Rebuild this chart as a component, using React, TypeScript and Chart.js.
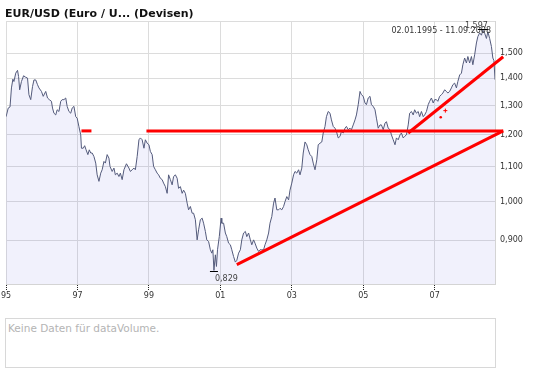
import React, { useEffect, useRef } from "react";
import { Chart, registerables } from "chart.js";

Chart.register(...registerables);

const titleText = "EUR/USD (Euro / U... (Devisen)";
const rangeStart = "02.01.1995";
const rangeEnd = "11.09.2008";
const emptyVolumeText = "Keine Daten für dataVolume.";

const xMinYear = 1995;
const xMaxYear = 2008.69;
const yMinValue = 0.7988;
const yMaxValue = 1.635;
const xTickYears = [1995, 1997, 1999, 2001, 2003, 2005, 2007];
const yTickValues = [0.9, 1.0, 1.1, 1.2, 1.3, 1.4, 1.5];

const priceYears = [
  1995.00, 1995.06, 1995.11, 1995.15, 1995.19, 1995.22, 1995.27, 1995.32, 1995.35, 1995.38,
  1995.43, 1995.49, 1995.54, 1995.60, 1995.64, 1995.69, 1995.74, 1995.78, 1995.83, 1995.88,
  1995.92, 1995.99, 1996.04, 1996.11, 1996.16, 1996.21, 1996.27, 1996.30, 1996.34, 1996.39,
  1996.43, 1996.48, 1996.53, 1996.57, 1996.62, 1996.67, 1996.71, 1996.76, 1996.81, 1996.85,
  1996.90, 1996.95, 1996.99, 1997.04, 1997.09, 1997.11, 1997.16, 1997.20, 1997.24, 1997.29,
  1997.33, 1997.37, 1997.41, 1997.46, 1997.51, 1997.55, 1997.60, 1997.65, 1997.69, 1997.74,
  1997.78, 1997.83, 1997.88, 1997.91, 1997.97, 1998.02, 1998.06, 1998.11, 1998.16, 1998.20,
  1998.25, 1998.30, 1998.37, 1998.44, 1998.48, 1998.53, 1998.58, 1998.62, 1998.67, 1998.72,
  1998.76, 1998.81, 1998.86, 1998.90, 1998.95, 1999.00, 1999.04, 1999.09, 1999.13, 1999.18,
  1999.23, 1999.27, 1999.32, 1999.37, 1999.41, 1999.46, 1999.51, 1999.55, 1999.60, 1999.65,
  1999.69, 1999.74, 1999.79, 1999.83, 1999.88, 1999.93, 1999.97, 2000.02, 2000.07, 2000.11,
  2000.16, 2000.21, 2000.25, 2000.30, 2000.35, 2000.39, 2000.44, 2000.49, 2000.53, 2000.58,
  2000.62, 2000.67, 2000.72, 2000.76, 2000.79, 2000.82, 2000.86, 2000.89, 2000.92, 2000.97,
  2001.02, 2001.04, 2001.09, 2001.14, 2001.18, 2001.23, 2001.28, 2001.32, 2001.37, 2001.42,
  2001.46, 2001.51, 2001.56, 2001.60, 2001.65, 2001.70, 2001.74, 2001.79, 2001.84, 2001.88,
  2001.93, 2001.97, 2002.02, 2002.07, 2002.11, 2002.16, 2002.21, 2002.25, 2002.30, 2002.35,
  2002.39, 2002.44, 2002.49, 2002.53, 2002.58, 2002.63, 2002.67, 2002.72, 2002.77, 2002.81,
  2002.86, 2002.91, 2002.95, 2003.00, 2003.05, 2003.09, 2003.14, 2003.19, 2003.23, 2003.28,
  2003.32, 2003.37, 2003.42, 2003.46, 2003.51, 2003.56, 2003.60, 2003.65, 2003.70, 2003.74,
  2003.79, 2003.84, 2003.88, 2003.93, 2003.97, 2004.02, 2004.07, 2004.11, 2004.16, 2004.21,
  2004.25, 2004.30, 2004.35, 2004.39, 2004.44, 2004.49, 2004.53, 2004.58, 2004.63, 2004.67,
  2004.72, 2004.77, 2004.81, 2004.86, 2004.91, 2004.95, 2005.00, 2005.05, 2005.09, 2005.14,
  2005.19, 2005.23, 2005.28, 2005.33, 2005.37, 2005.42, 2005.47, 2005.51, 2005.56, 2005.61,
  2005.65, 2005.70, 2005.75, 2005.79, 2005.84, 2005.89, 2005.93, 2005.98, 2006.03, 2006.07,
  2006.12, 2006.16, 2006.21, 2006.26, 2006.30, 2006.35, 2006.40, 2006.44, 2006.49, 2006.54,
  2006.58, 2006.63, 2006.68, 2006.72, 2006.77, 2006.82, 2006.86, 2006.91, 2006.96, 2007.00,
  2007.05, 2007.09, 2007.14, 2007.19, 2007.23, 2007.28, 2007.33, 2007.37, 2007.42, 2007.47,
  2007.51, 2007.56, 2007.61, 2007.65, 2007.70, 2007.75, 2007.79, 2007.84, 2007.89, 2007.93,
  2007.98, 2008.03, 2008.07, 2008.12, 2008.17, 2008.21, 2008.26, 2008.31, 2008.35, 2008.40,
  2008.45, 2008.49, 2008.54, 2008.59, 2008.63, 2008.66, 2008.69,
];

const priceValues = [
  1.261, 1.291, 1.295, 1.364, 1.397, 1.388, 1.420, 1.431, 1.407, 1.357,
  1.388, 1.410, 1.405, 1.401, 1.339, 1.321, 1.369, 1.394, 1.394, 1.376,
  1.364, 1.351, 1.333, 1.351, 1.327, 1.321, 1.315, 1.291, 1.273, 1.267,
  1.285, 1.279, 1.315, 1.321, 1.321, 1.327, 1.297, 1.279, 1.273, 1.291,
  1.297, 1.261, 1.256, 1.227, 1.200, 1.157, 1.157, 1.165, 1.152, 1.137,
  1.152, 1.142, 1.142, 1.131, 1.111, 1.076, 1.057, 1.081, 1.091, 1.116,
  1.111, 1.137, 1.126, 1.101, 1.086, 1.096, 1.076, 1.081, 1.071, 1.081,
  1.062, 1.091, 1.109, 1.096, 1.086, 1.091, 1.096, 1.091, 1.131, 1.184,
  1.190, 1.184, 1.157, 1.184, 1.173, 1.168, 1.147, 1.137, 1.101, 1.091,
  1.081, 1.076, 1.066, 1.062, 1.052, 1.042, 1.023, 1.076, 1.062, 1.047,
  1.071, 1.076, 1.066, 1.037, 1.042, 1.023, 1.032, 1.023, 0.996, 0.978,
  0.987, 0.969, 0.969, 0.952, 0.901, 0.926, 0.952, 0.956, 0.943, 0.922,
  0.901, 0.897, 0.877, 0.869, 0.877, 0.829, 0.865, 0.838, 0.877, 0.909,
  0.956, 0.943, 0.943, 0.918, 0.909, 0.893, 0.889, 0.877, 0.861, 0.848,
  0.852, 0.869, 0.877, 0.901, 0.918, 0.922, 0.909, 0.918, 0.901, 0.889,
  0.901, 0.893, 0.881, 0.873, 0.877, 0.877, 0.877, 0.889, 0.901, 0.918,
  0.943, 0.960, 0.996, 1.010, 0.978, 0.978, 0.982, 0.978, 0.987, 1.000,
  1.014, 1.005, 1.032, 1.052, 1.076, 1.086, 1.081, 1.091, 1.076, 1.096,
  1.142, 1.177, 1.168, 1.152, 1.137, 1.131, 1.111, 1.091, 1.121, 1.168,
  1.173, 1.177, 1.206, 1.228, 1.261, 1.279, 1.273, 1.250, 1.228, 1.222,
  1.211, 1.190, 1.195, 1.211, 1.206, 1.222, 1.228, 1.217, 1.222, 1.217,
  1.233, 1.250, 1.267, 1.303, 1.351, 1.339, 1.333, 1.309, 1.303, 1.327,
  1.333, 1.303, 1.297, 1.285, 1.256, 1.222, 1.233, 1.233, 1.217, 1.239,
  1.244, 1.222, 1.217, 1.200, 1.184, 1.168, 1.190, 1.184, 1.200, 1.206,
  1.190, 1.195, 1.200, 1.233, 1.273, 1.279, 1.267, 1.285, 1.273, 1.279,
  1.261, 1.279, 1.261, 1.267, 1.279, 1.303, 1.315, 1.327, 1.309, 1.321,
  1.321, 1.315, 1.333, 1.339, 1.345, 1.357, 1.351, 1.345, 1.351, 1.364,
  1.376, 1.382, 1.364, 1.388, 1.413, 1.420, 1.453, 1.480, 1.460, 1.486,
  1.460, 1.486, 1.453, 1.493, 1.542, 1.569, 1.585, 1.575, 1.597, 1.584,
  1.561, 1.590, 1.561, 1.527, 1.480, 1.470, 1.395,
];

// hand-drawn trend lines (red)
const shortLevelYears = [1997.11, 1997.39];
const shortLevelValues = [1.213, 1.213];
const longLevelYears = [1998.93, 2008.92];
const longLevelValues = [1.213, 1.213];
const supportYears = [2001.46, 2008.92];
const supportValues = [0.842, 1.213];
const channelYears = [2006.26, 2008.92];
const channelValues = [1.206, 1.485];
const crossYears = [2007.30];
const crossValues = [1.282];
const dotYears = [2007.17];
const dotValues = [1.259];

const toPoints = (xs: number[], ys: number[]) => xs.map((x, i) => ({ x, y: ys[i] }));
const fmt = (v: number) => v.toFixed(3).replace(".", ",");

const FONT = "DejaVu Sans";
const RED = "#ff0000";

const extremesPlugin = {
  id: "extremes",
  afterDatasetsDraw(chart: any) {
    const { ctx, chartArea } = chart;
    const xs = chart.scales.x;
    const ys = chart.scales.y;
    let iMin = 0;
    let iMax = 0;
    priceValues.forEach((v, i) => {
      if (v < priceValues[iMin]) iMin = i;
      if (v > priceValues[iMax]) iMax = i;
    });
    ctx.save();
    ctx.font = `8px "${FONT}"`;
    // date range label
    ctx.fillStyle = "#333";
    ctx.textAlign = "right";
    ctx.textBaseline = "alphabetic";
    ctx.fillText(`${rangeStart} - ${rangeEnd}`, chartArea.right - 4, chartArea.top + 11.5);

    ctx.strokeStyle = "#000";
    ctx.lineWidth = 1;
    // min marker
    const mx = xs.getPixelForValue(priceYears[iMin]);
    const my = Math.round(ys.getPixelForValue(priceValues[iMin])) + 1.5;
    ctx.beginPath();
    ctx.moveTo(mx - 4, my);
    ctx.lineTo(mx + 4, my);
    ctx.stroke();
    ctx.fillStyle = "#444";
    ctx.textAlign = "left";
    ctx.textBaseline = "alphabetic";
    ctx.fillText(fmt(priceValues[iMin]), mx + 1, my + 9);
    // max marker
    const Mx = xs.getPixelForValue(priceYears[iMax]);
    const My = Math.round(ys.getPixelForValue(priceValues[iMax])) - 0.5;
    ctx.beginPath();
    ctx.moveTo(Mx - 5, My);
    ctx.lineTo(Mx + 5, My);
    ctx.stroke();
    ctx.textAlign = "right";
    ctx.fillText(fmt(priceValues[iMax]), Mx + 5, My - 1.5);
    ctx.restore();
  },
};

export default function App() {
  const canvasRef = useRef<HTMLCanvasElement | null>(null);

  useEffect(() => {
    const canvas = canvasRef.current;
    if (!canvas) return;
    const font = { family: FONT, size: 8 };
    const redLine = (xs: number[], ys: number[]) => ({
      data: toPoints(xs, ys),
      borderColor: RED,
      backgroundColor: RED,
      borderWidth: 3,
      pointRadius: 0,
      fill: false,
      clip: false as any,
      order: 0,
    });
    const chart = new Chart(canvas, {
      type: "line",
      data: {
        datasets: [
          redLine(shortLevelYears, shortLevelValues),
          redLine(longLevelYears, longLevelValues),
          redLine(supportYears, supportValues),
          redLine(channelYears, channelValues),
          {
            data: toPoints(crossYears, crossValues),
            showLine: false,
            pointStyle: "cross",
            pointRadius: 2,
            borderColor: RED,
            borderWidth: 1,
            order: 0,
          } as any,
          {
            data: toPoints(dotYears, dotValues),
            showLine: false,
            pointStyle: "circle",
            pointRadius: 1.3,
            borderColor: RED,
            backgroundColor: RED,
            borderWidth: 0,
            order: 0,
          } as any,
          {
            data: toPoints(priceYears, priceValues),
            borderColor: "#545b7c",
            borderWidth: 1,
            pointRadius: 0,
            fill: "start",
            backgroundColor: "rgba(120,120,230,0.105)",
            tension: 0,
            order: 10,
          },
        ],
      },
      options: {
        responsive: false,
        animation: false,
        devicePixelRatio: 1,
        events: [],
        layout: { padding: { left: 5, top: 21.5, right: 0, bottom: 70 } },
        plugins: {
          legend: { display: false },
          tooltip: { enabled: false },
          title: { display: false },
        },
        scales: {
          x: {
            type: "linear",
            position: "bottom",
            min: xMinYear,
            max: xMaxYear,
            afterBuildTicks: (s: any) => {
              s.ticks = xTickYears.map((v) => ({ value: v }));
            },
            afterFit: (s: any) => {
              s.height = 16;
            },
            ticks: {
              callback: (v: any) => String(v).slice(2),
              font,
              color: "#333",
              padding: 1,
              maxRotation: 0,
              autoSkip: false,
            },
            grid: {
              color: "#dcdcdc",
              lineWidth: 1,
              drawTicks: true,
              tickLength: 6,
              tickColor: "#222",
              tickBorderDash: [1, 1],
            } as any,
            border: { display: true, color: "#d4d4d4" },
          },
          y: {
            type: "logarithmic",
            position: "right",
            min: yMinValue,
            max: yMaxValue,
            afterBuildTicks: (s: any) => {
              s.ticks = [...yTickValues, yMaxValue].map((v) => ({ value: v }));
            },
            afterFit: (s: any) => {
              s.width = 50;
            },
            ticks: {
              callback: (v: any) => (v === yMaxValue ? "" : fmt(Number(v))),
              font,
              color: "#333",
              padding: 5,
              autoSkip: false,
            },
            grid: { color: "#dcdcdc", lineWidth: 1, drawTicks: false },
            border: { display: true, color: "#d4d4d4" },
          },
        },
      },
      plugins: [extremesPlugin],
    });
    return () => chart.destroy();
  }, []);

  return (
    <div style={{ position: "absolute", left: 0, top: 0, width: 545, height: 370, background: "#fff" }}>
      <canvas
        ref={canvasRef}
        width={545}
        height={370}
        style={{ position: "absolute", left: 0, top: 0, width: 545, height: 370, display: "block" }}
      />
      <div
        style={{
          position: "absolute",
          left: 5,
          top: 7,
          font: `bold 11px "${FONT}"`,
          lineHeight: "13px",
          color: "#111",
          whiteSpace: "nowrap",
        }}
      >
        {titleText}
      </div>
      <div
        style={{
          position: "absolute",
          left: 5,
          top: 318,
          width: 491,
          height: 50,
          boxSizing: "border-box",
          border: "1px solid #d8d8d8",
          background: "#fff",
        }}
      >
        <div
          style={{
            position: "absolute",
            left: 2,
            top: 2.5,
            font: `10.5px "${FONT}"`,
            lineHeight: "12px",
            color: "#b4b4b4",
            whiteSpace: "nowrap",
          }}
        >
          {emptyVolumeText}
        </div>
      </div>
    </div>
  );
}
